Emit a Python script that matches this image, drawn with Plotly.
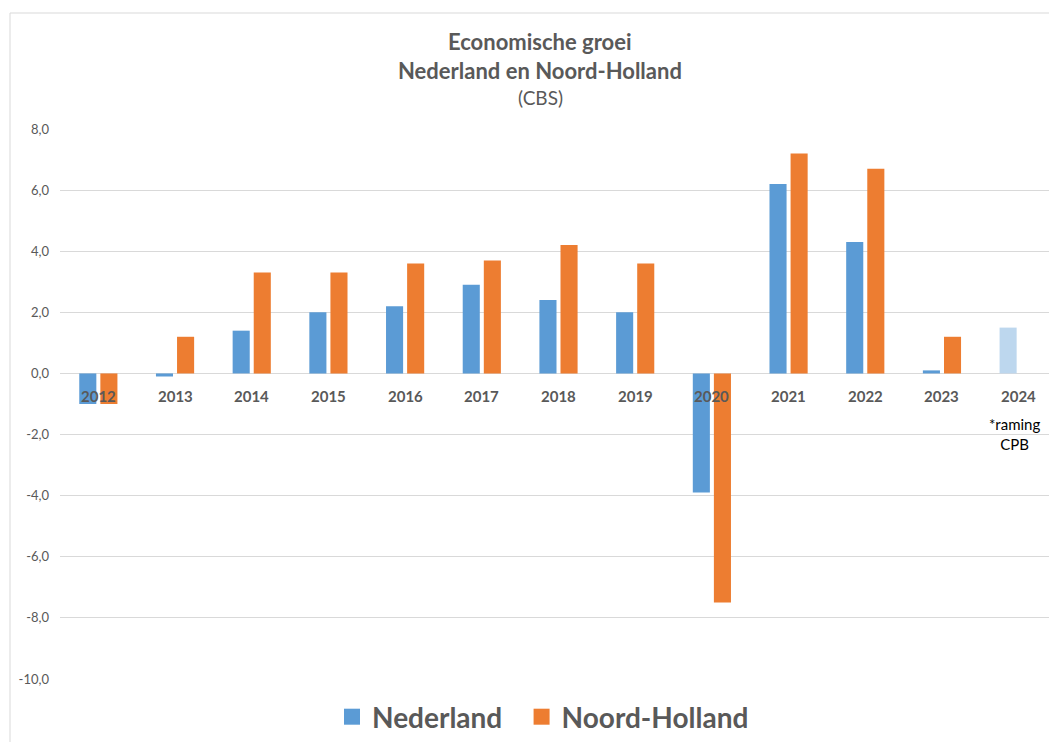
import plotly.graph_objects as go

years = ["2012", "2013", "2014", "2015", "2016", "2017", "2018", "2019", "2020", "2021", "2022", "2023", "2024"]
nederland = [-1.0, -0.1, 1.4, 2.0, 2.2, 2.9, 2.4, 2.0, -3.9, 6.2, 4.3, 0.1, 1.5]
noord_holland = [-1.0, 1.2, 3.3, 3.3, 3.6, 3.7, 4.2, 3.6, -7.5, 7.2, 6.7, 1.2, None]
y_ticks = [8, 6, 4, 2, 0, -2, -4, -6, -8, -10]
y_ticktext = [("%.1f" % v).replace(".", ",") for v in y_ticks]
series_names = ["Nederland", "Noord-Holland"]
note_text = "*raming<br>CPB"
title_lines = ["<b>Economische groei</b>", "<b>Nederland en Noord-Holland</b>", "(CBS)"]

BLUE = "#5B9BD5"
BLUE_LIGHT = "#BDD7EE"
ORANGE = "#ED7D31"
GREY = "#595959"
FONT = "Lato"

# page body has an 8px margin; compensate so plot sits where the reference does
W, H = 1049, 734
OFF = 8
L, T = 60 - OFF, 129 - OFF
PH = 550
B = H - T - PH
PW = W - L

def px_x(p):  # window pixel -> paper x
    return (p - OFF - L) / PW

def px_y(p):  # window pixel -> paper y
    return (T + PH - (p - OFF)) / PH

blue_colors = [BLUE] * (len(years) - 1) + [BLUE_LIGHT]
idx = list(range(len(years)))

fig = go.Figure()
fig.add_trace(go.Bar(x=idx, y=nederland, name=series_names[0], showlegend=False,
                     marker=dict(color=blue_colors, line=dict(width=0))))
fig.add_trace(go.Bar(x=idx, y=noord_holland, name=series_names[1], showlegend=False,
                     marker=dict(color=ORANGE, line=dict(width=0))))
# legend proxies with big square symbols
legend_labels = ["<b>%s</b>&nbsp;&nbsp;" % series_names[0], "<b>%s</b>" % series_names[1]]
for lbl, col in zip(legend_labels, [BLUE, ORANGE]):
    fig.add_trace(go.Scatter(x=[None], y=[None], mode="markers", name=lbl,
                             marker=dict(symbol="square", size=17, color=col)))

for i, yr in enumerate(years):
    fig.add_annotation(x=i, y=0, xref="x", yref="y", text="<b>%s</b>" % yr,
                       showarrow=False, yanchor="top", yshift=-12,
                       font=dict(family=FONT, size=15, color=GREY))

fig.add_annotation(x=len(years) - 1, y=0, xref="x", yref="y", text=note_text,
                   showarrow=False, yanchor="top", yshift=-40, xshift=-4,
                   font=dict(family=FONT, size=15, color="#000000"))

for txt, ypix, sz in zip(title_lines, [41, 70, 98], [22, 22, 19]):
    fig.add_annotation(x=px_x(540), y=px_y(ypix), xref="paper", yref="paper",
                       text=txt, showarrow=False, yanchor="middle",
                       font=dict(family=FONT, size=sz, color=GREY))

# chart area border (left and top)
fig.add_shape(type="path", xref="paper", yref="paper",
              path="M %f %f L %f %f L %f %f" % (px_x(10), -0.3, px_x(10), px_y(13), 1.2, px_y(13)),
              line=dict(color="#D9D9D9", width=1))

fig.update_layout(
    width=W, height=H,
    margin=dict(l=L, r=0, t=T, b=B, autoexpand=False),
    paper_bgcolor="white", plot_bgcolor="white",
    barmode="group", bargap=0.45, bargroupgap=0.19,
    showlegend=True,
    legend=dict(orientation="h", x=px_x(543), xanchor="center", y=px_y(717), yanchor="middle",
                font=dict(family=FONT, size=28, color=GREY), traceorder="normal",
                itemclick=False, itemdoubleclick=False),
    font=dict(family=FONT, color=GREY),
)

fig.update_xaxes(type="linear", showticklabels=False, showgrid=False, showline=False, zeroline=False,
                 range=[-0.5, len(years) - 0.5])
fig.update_yaxes(range=[-10, 8], tickvals=y_ticks, ticktext=y_ticktext,
                 showgrid=True, gridcolor="#D9D9D9", gridwidth=1,
                 zeroline=True, zerolinecolor="#D9D9D9", zerolinewidth=1,
                 showline=False, ticks="", ticklabelstandoff=10,
                 tickfont=dict(family=FONT, size=13, color=GREY))

fig.write_html("out.html")
